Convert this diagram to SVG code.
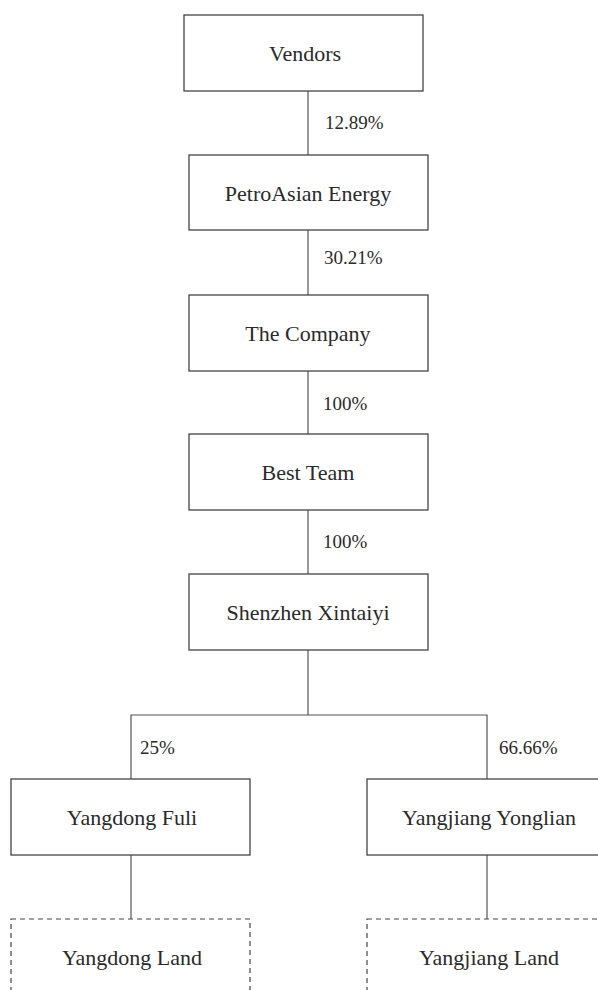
<svg xmlns="http://www.w3.org/2000/svg" width="598" height="990" viewBox="0 0 598 990">
<style>
.box{fill:#fff;stroke:#444;stroke-width:1.3}
.dash{fill:none;stroke:#444;stroke-width:1.2;stroke-dasharray:5 4}
.lbl{font-family:"Liberation Serif",serif;font-size:22px;fill:#2a2a2a;text-anchor:middle}
.pct{font-family:"Liberation Serif",serif;font-size:19px;fill:#2a2a2a}
.ln{stroke:#555;stroke-width:1.2;fill:none}
</style>
<rect width="598" height="990" fill="#fff"/>
<g id="connectors">
<line class="ln" x1="308" y1="91" x2="308" y2="155"/>
<line class="ln" x1="308" y1="230" x2="308" y2="295"/>
<line class="ln" x1="308" y1="371" x2="308" y2="434"/>
<line class="ln" x1="308" y1="510" x2="308" y2="574"/>
<polyline class="ln" points="308,650 308,715"/>
<polyline class="ln" points="131,779 131,715 487,715 487,779"/>
<line class="ln" x1="131" y1="855" x2="131" y2="919"/>
<line class="ln" x1="487" y1="855" x2="487" y2="919"/>
<text class="pct" x="325" y="129">12.89%</text>
<text class="pct" x="324" y="264">30.21%</text>
<text class="pct" x="323" y="410">100%</text>
<text class="pct" x="323" y="548">100%</text>
<text class="pct" x="140" y="754">25%</text>
<text class="pct" x="499" y="754">66.66%</text>
</g>
<g id="vendors"><rect class="box" x="184" y="15" width="239" height="76"/><text class="lbl" x="305" y="61">Vendors</text></g>
<g id="petroasian"><rect class="box" x="189" y="155" width="239" height="75"/><text class="lbl" x="308" y="201">PetroAsian Energy</text></g>
<g id="company"><rect class="box" x="189" y="295" width="239" height="76"/><text class="lbl" x="308" y="341">The Company</text></g>
<g id="bestteam"><rect class="box" x="189" y="434" width="239" height="76"/><text class="lbl" x="308" y="480">Best Team</text></g>
<g id="shenzhen"><rect class="box" x="189" y="574" width="239" height="76"/><text class="lbl" x="308" y="620">Shenzhen Xintaiyi</text></g>
<g id="yangdongfuli"><rect class="box" x="11" y="779" width="239" height="76"/><text class="lbl" x="132" y="825">Yangdong Fuli</text></g>
<g id="yangjiangyonglian"><rect class="box" x="367" y="779" width="239" height="76"/><text class="lbl" x="489" y="825">Yangjiang Yonglian</text></g>
<g id="yangdongland"><rect class="dash" x="11" y="919" width="239" height="90"/><text class="lbl" x="132" y="965">Yangdong Land</text></g>
<g id="yangjiangland"><rect class="dash" x="367" y="919" width="239" height="90"/><text class="lbl" x="489" y="965">Yangjiang Land</text></g>
</svg>
